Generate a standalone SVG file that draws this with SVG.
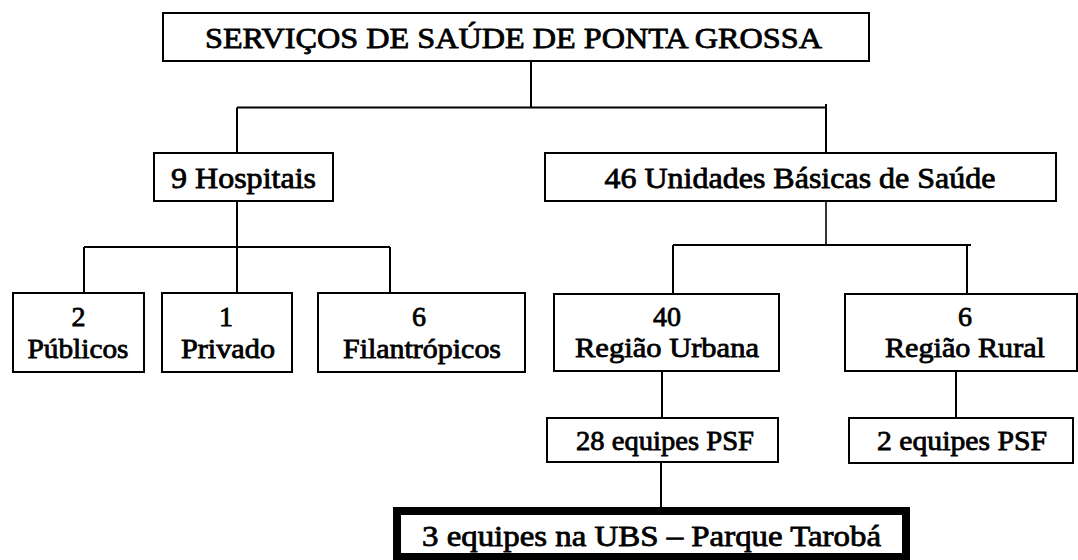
<svg xmlns="http://www.w3.org/2000/svg" width="1078" height="560" viewBox="0 0 1078 560">
<style>
  .box { fill: #ffffff; stroke: #000000; stroke-width: 2; }
  .thick { fill: #ffffff; stroke: #000000; stroke-width: 8; }
  text { font-family: "Liberation Serif", serif; font-weight: normal; fill: #000000; stroke: #000000; stroke-width: 0.8; stroke-linejoin: miter; text-anchor: middle; }
  .l30 { font-size: 30px; }
  .l28 { font-size: 28px; }
  .conn { stroke: #000000; stroke-width: 2; fill: none; }
</style>
<rect width="1078" height="560" fill="#ffffff"/>
<g id="connectors">
  <path class="conn" d="M531 61 V107.5 M237 107.5 H826 M237 107.5 V153 M826 104 V153"/>
  <path class="conn" d="M237 201 V293 M84 247 H390 M84 247 V293 M390 247 V293"/>
  <path class="conn" style="stroke-width:1.6" d="M826 201 V245"/>
  <path class="conn" d="M673 245 H971 M673 245 V294 M967 245 V294"/>
  <path class="conn" d="M662 371 V418 M956 371 V418 M661 462 V507"/>
</g>
<g id="root">
  <rect class="box" x="163" y="13" width="706" height="48"/>
  <text class="l30" x="513.5" y="48" textLength="617" lengthAdjust="spacingAndGlyphs">SERVIÇOS DE SAÚDE DE PONTA GROSSA</text>
</g>
<g id="hospitais">
  <rect class="box" x="154" y="153" width="179" height="48"/>
  <text class="l30" x="243.5" y="188" textLength="145" lengthAdjust="spacingAndGlyphs">9 Hospitais</text>
</g>
<g id="ubs">
  <rect class="box" x="545" y="153" width="511" height="48"/>
  <text class="l30" x="800" y="188" textLength="391" lengthAdjust="spacingAndGlyphs">46 Unidades Básicas de Saúde</text>
</g>
<g id="publicos">
  <rect class="box" x="13" y="293" width="131" height="79"/>
  <text class="l28" x="78.5" y="326">2</text>
  <text class="l28" x="78" y="358" textLength="101" lengthAdjust="spacingAndGlyphs">Públicos</text>
</g>
<g id="privado">
  <rect class="box" x="162" y="293" width="130" height="79"/>
  <text class="l28" x="226" y="326">1</text>
  <text class="l28" x="228" y="358" textLength="94" lengthAdjust="spacingAndGlyphs">Privado</text>
</g>
<g id="filantropicos">
  <rect class="box" x="318" y="293" width="207" height="79"/>
  <text class="l28" x="419" y="326">6</text>
  <text class="l28" x="422" y="358" textLength="158" lengthAdjust="spacingAndGlyphs">Filantrópicos</text>
</g>
<g id="urbana">
  <rect class="box" x="554" y="294" width="225" height="77"/>
  <text class="l28" x="667" y="326">40</text>
  <text class="l28" x="667" y="357" textLength="184" lengthAdjust="spacingAndGlyphs">Região Urbana</text>
</g>
<g id="rural">
  <rect class="box" x="845" y="294" width="232" height="77"/>
  <text class="l28" x="965" y="326">6</text>
  <text class="l28" x="965" y="357" textLength="160" lengthAdjust="spacingAndGlyphs">Região Rural</text>
</g>
<g id="psf28">
  <rect class="box" x="547" y="418" width="231" height="44"/>
  <text class="l28" x="665" y="450" textLength="178" lengthAdjust="spacingAndGlyphs">28 equipes PSF</text>
</g>
<g id="psf2">
  <rect class="box" x="849" y="418" width="224" height="45"/>
  <text class="l28" x="962" y="450" textLength="170" lengthAdjust="spacingAndGlyphs">2 equipes PSF</text>
</g>
<g id="taroba">
  <rect class="thick" x="397" y="511" width="509" height="46"/>
  <text class="l30" x="651.5" y="546" textLength="459" lengthAdjust="spacingAndGlyphs">3 equipes na UBS – Parque Tarobá</text>
</g>
</svg>
